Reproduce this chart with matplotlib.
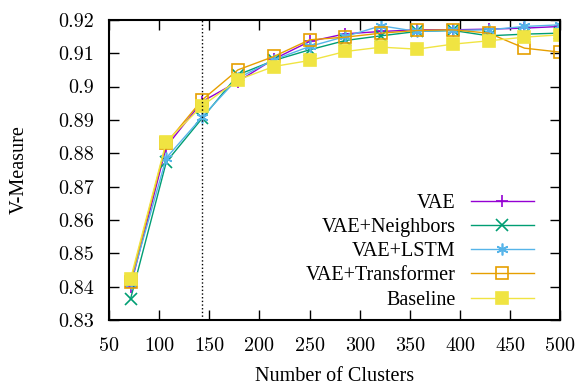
import numpy as np
import matplotlib.pyplot as plt

# --- dados ---
clusters = [71.4, 107.1, 142.9, 178.6, 214.3, 250, 285.7, 321.4, 357.1, 392.9, 428.6, 464.3, 500]

vae = [0.8400, 0.8820, 0.8955, 0.9015, 0.9082, 0.9135, 0.9158, 0.9165, 0.9170, 0.9170, 0.9172, 0.9175, 0.9180]
vae_neighbors = [0.8363, 0.8774, 0.8905, 0.9035, 0.9078, 0.9110, 0.9138, 0.9152, 0.9165, 0.9168, 0.9152, 0.9157, 0.9160]
vae_lstm = [0.8410, 0.8786, 0.8909, 0.9025, 0.9080, 0.9120, 0.9150, 0.9182, 0.9165, 0.9168, 0.9170, 0.9180, 0.9185]
vae_transformer = [0.8415, 0.8830, 0.8960, 0.9050, 0.9090, 0.9140, 0.9148, 0.9160, 0.9168, 0.9170, 0.9160, 0.9115, 0.9103]
baseline = [0.8423, 0.8835, 0.8942, 0.9020, 0.9060, 0.9078, 0.9105, 0.9118, 0.9112, 0.9127, 0.9137, 0.9148, 0.9155]

xticks = [50, 100, 150, 200, 250, 300, 350, 400, 450, 500]
yticks = [0.83, 0.84, 0.85, 0.86, 0.87, 0.88, 0.89, 0.9, 0.91, 0.92]
corte = 143

series = [
    ('VAE', vae, '#9400d3', '+', 'full'),
    ('VAE+Neighbors', vae_neighbors, '#009e73', 'x', 'full'),
    ('VAE+LSTM', vae_lstm, '#56b4e9', (6, 2, 0), 'full'),
    ('VAE+Transformer', vae_transformer, '#e69f00', 's', 'none'),
    ('Baseline', baseline, '#f0e442', 's', 'full'),
]

plt.rcParams['font.family'] = ['Liberation Serif', 'DejaVu Serif']

fig = plt.figure(figsize=(5.77, 3.88), dpi=100)
ax = fig.add_axes([0.189, 0.175, 0.782, 0.774])

for nome, vals, cor, mk, fill in series:
    ax.plot(clusters, vals, color=cor, marker=mk, fillstyle=fill, markersize=8.5,
            markeredgewidth=1.2, linewidth=1.0, label=nome)

ax.axvline(corte, color='black', linestyle=':', linewidth=1.0)

ax.set_xlim(50, 500)
ax.set_ylim(0.83, 0.92)
ax.set_xticks(xticks)
ax.set_yticks(yticks)
ax.set_yticklabels(['%g' % v for v in yticks])
ax.tick_params(direction='in', length=7, width=1.0, top=True, right=True,
               labelsize=14.5, labelfontfamily='cmr10')
ax.tick_params(axis='y', pad=11)
ax.tick_params(axis='x', pad=12)
for s in ax.spines.values():
    s.set_linewidth(1.5)

ax.set_xlabel('Number of Clusters', fontsize=14.5, labelpad=9)
ax.set_ylabel('V-Measure', fontsize=14.5, labelpad=21)

ax.legend(loc='lower right', bbox_to_anchor=(0.942, 0.035), markerfirst=False, frameon=False,
          fontsize=14.5, handlelength=3.15, handletextpad=0.75, labelspacing=0.25,
          borderpad=0, borderaxespad=0)

fig.savefig('out.png', dpi=100)
